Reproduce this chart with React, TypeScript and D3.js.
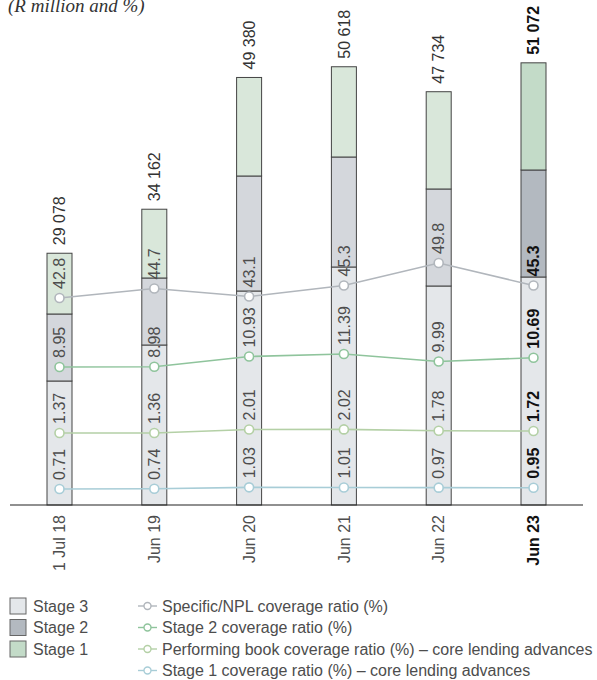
import React from "react";
import * as d3 from "d3";

// Reporting dates
const categories = ["1 Jul 18", "Jun 19", "Jun 20", "Jun 21", "Jun 22", "Jun 23"];

// Loan impairment allowances by stage (R million)
const stage3 = [14322, 18480, 24717, 27489, 25295, 26334];
const stage2 = [7739, 7739, 13283, 12705, 11204, 12359];
const stage1 = [7017, 7943, 11380, 10424, 11235, 12379];
const totals = [29078, 34162, 49380, 50618, 47734, 51072];

// Coverage ratios (%)
const nplCoverage = [42.8, 44.7, 43.1, 45.3, 49.8, 45.3];
const stage2Coverage = [8.95, 8.98, 10.93, 11.39, 9.99, 10.69];
const performingCoverage = [1.37, 1.36, 2.01, 2.02, 1.78, 1.72];
const stage1Coverage = [0.71, 0.74, 1.03, 1.01, 0.97, 0.95];

const W = 597;
const H = 680;
const FONT = "'Liberation Sans', Arial, Helvetica, sans-serif";
const baseY = 505;
const barW = 25;
const current = categories.length - 1;
const TEXT = "#4d4d4d";
const TEXT_BOLD = "#111";

const x = d3.scalePoint<string>().domain(categories).range([59.5, 533.5]);
const y = d3.scaleLinear().domain([0, 50000]).range([baseY, baseY - 50000 / 115.5]);

const spaceFmt = d3.formatLocale({
  decimal: ".",
  thousands: " ",
  grouping: [3],
  currency: ["", ""],
}).format(",");

type Stage = { name: string; values: number[]; fill: string; fillCurrent: string };
const stages: Stage[] = [
  { name: "Stage 3", values: stage3, fill: "#e4e7ea", fillCurrent: "#e4e7ea" },
  { name: "Stage 2", values: stage2, fill: "#d4d7dc", fillCurrent: "#b3b9c0" },
  { name: "Stage 1", values: stage1, fill: "#d9e7da", fillCurrent: "#c3dbc8" },
];

type Ratio = {
  label: string;
  values: number[];
  color: string;
  fmt: (n: number) => string;
  scale: d3.ScaleLinear<number, number>;
};

// Each ratio line sits in its own band over the bars
const ratios: Ratio[] = [
  {
    label: "Specific/NPL coverage ratio (%)",
    values: nplCoverage,
    color: "#b1b6bc",
    fmt: d3.format(".1f"),
    scale: d3.scaleLinear().domain([40, 50]).range([312, 262]),
  },
  {
    label: "Stage 2 coverage ratio (%)",
    values: stage2Coverage,
    color: "#8fc49c",
    fmt: d3.format(".2f"),
    scale: d3.scaleLinear().domain([8, 12]).range([372, 350.8]),
  },
  {
    label: "Performing book coverage ratio (%) \u2013 core lending advances",
    values: performingCoverage,
    color: "#b4d0a6",
    fmt: d3.format(".2f"),
    scale: d3.scaleLinear().domain([1, 2]).range([435, 429.5]),
  },
  {
    label: "Stage 1 coverage ratio (%) \u2013 core lending advances",
    values: stage1Coverage,
    color: "#a8cdd7",
    fmt: d3.format(".2f"),
    scale: d3.scaleLinear().domain([0.5, 1.5]).range([490, 485]),
  },
];

export default function App() {
  const stacked = categories.map((c, i) => {
    let acc = 0;
    return stages.map((s) => {
      const y0 = acc;
      acc += s.values[i];
      return { stage: s, y0, y1: acc };
    });
  });

  return (
    <>
      <style>{`body{margin:0}`}</style>
      <svg width={W} height={H} style={{ display: "block", background: "#fff" }} fontFamily={FONT}>
        <text x={8} y={12} fontFamily="'Liberation Serif', 'Times New Roman', serif" fontStyle="italic" fontSize={19} fill="#333">
          (R million and %)
        </text>

        {/* stacked bars */}
        {categories.map((c, i) => {
          const cx = x(c)!;
          const isCur = i === current;
          return (
            <g key={c}>
              {stacked[i].map((seg) => (
                <rect
                  key={seg.stage.name}
                  x={cx - barW / 2}
                  y={y(seg.y1)}
                  width={barW}
                  height={y(seg.y0) - y(seg.y1)}
                  fill={isCur ? seg.stage.fillCurrent : seg.stage.fill}
                  stroke="#444"
                  strokeWidth={1}
                />
              ))}
              <text
                transform={`translate(${cx},${y(totals[i]) - 8}) rotate(-90)`}
                dy="0.35em"
                fontSize={16}
                fontWeight={isCur ? "bold" : "normal"}
                fill={isCur ? TEXT_BOLD : "#333"}
              >
                {spaceFmt(totals[i])}
              </text>
            </g>
          );
        })}

        {/* axis baseline */}
        <line x1={10} x2={583} y1={baseY} y2={baseY} stroke="#222" strokeWidth={1.2} />

        {/* category labels */}
        {categories.map((c, i) => (
          <text
            key={c}
            transform={`translate(${x(c)},${baseY + 10}) rotate(-90)`}
            dy="0.35em"
            textAnchor="end"
            fontSize={16}
            fontWeight={i === current ? "bold" : "normal"}
            fill={i === current ? TEXT_BOLD : TEXT}
          >
            {c}
          </text>
        ))}

        {/* ratio lines */}
        {ratios.map((r) => {
          const line = d3
            .line<number>()
            .x((_, i) => x(categories[i])!)
            .y((v) => r.scale(v));
          return (
            <g key={r.label}>
              <path d={line(r.values) ?? ""} fill="none" stroke={r.color} strokeWidth={1.6} />
              {r.values.map((v, i) => (
                <circle key={i} cx={x(categories[i])} cy={r.scale(v)} r={4.5} fill="#fff" stroke={r.color} strokeWidth={1.6} />
              ))}
              {r.values.map((v, i) => (
                <text
                  key={"t" + i}
                  transform={`translate(${x(categories[i])},${r.scale(v) - 9}) rotate(-90)`}
                  dy="0.35em"
                  fontSize={16}
                  fontWeight={i === current ? "bold" : "normal"}
                  fill={i === current ? TEXT_BOLD : TEXT}
                >
                  {r.fmt(v)}
                </text>
              ))}
            </g>
          );
        })}

        {/* legend: stages */}
        {stages.map((s, i) => {
          const cy = 606 + i * 21.5;
          return (
            <g key={s.name}>
              <rect x={10} y={cy - 8} width={16} height={16} fill={s.fillCurrent} stroke="#666" strokeWidth={1} />
              <text x={33} y={cy} dy="0.35em" fontSize={16} fill={TEXT}>
                {s.name}
              </text>
            </g>
          );
        })}

        {/* legend: ratios */}
        {ratios.map((r, i) => {
          const cy = 606 + i * 21.5;
          return (
            <g key={r.label}>
              <line x1={138} x2={157} y1={cy} y2={cy} stroke={r.color} strokeWidth={1.4} />
              <circle cx={147.5} cy={cy} r={3.5} fill="#fff" stroke={r.color} strokeWidth={1.4} />
              <text x={162} y={cy} dy="0.35em" fontSize={16} fill={TEXT}>
                {r.label}
              </text>
            </g>
          );
        })}
      </svg>
    </>
  );
}
